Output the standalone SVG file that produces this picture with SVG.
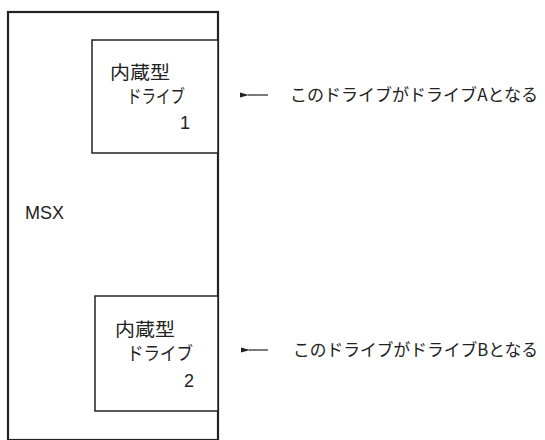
<svg xmlns="http://www.w3.org/2000/svg" width="545" height="440" viewBox="0 0 545 440">
<style>
.box{fill:#fff;stroke:#222;stroke-width:1.5}
.outer{fill:#fff;stroke:#222;stroke-width:2.2}
.t{font-family:"Noto Sans CJK JP","Liberation Sans",sans-serif;font-size:18.5px;fill:#222}
.s{font-family:"Noto Sans CJK JP","Liberation Sans",sans-serif;font-size:17px;fill:#222}
.n{font-family:"Liberation Sans",sans-serif;font-size:18px;fill:#222}
.c{stroke:#222;stroke-width:1.2;fill:none}
</style>
<defs>
<marker id="ah" markerWidth="9" markerHeight="6" refX="1" refY="3" orient="auto" markerUnits="userSpaceOnUse">
<path d="M9,0.5 L0,3 L9,5.5 Z" fill="#222"/>
</marker>
</defs>
<rect width="545" height="440" fill="#fff"/>
<g id="msx">
<rect class="outer" x="8" y="12" width="210" height="428"/>
<text class="n" x="25" y="219">MSX</text>
</g>
<g id="drive1">
<rect class="box" x="92" y="40" width="126" height="113"/>
<text class="t" x="110" y="79" textLength="60" lengthAdjust="spacingAndGlyphs">内蔵型</text>
<text class="t" x="127" y="103" textLength="58" lengthAdjust="spacingAndGlyphs">ドライブ</text>
<text class="n" x="180" y="129">1</text>
</g>
<g id="drive2">
<rect class="box" x="95" y="296" width="123" height="115"/>
<text class="t" x="115" y="336" textLength="60" lengthAdjust="spacingAndGlyphs">内蔵型</text>
<text class="t" x="127" y="360" textLength="66" lengthAdjust="spacingAndGlyphs">ドライブ</text>
<text class="n" x="184" y="387">2</text>
</g>
<g id="connectors">
<line class="c" x1="268" y1="95" x2="248" y2="95" marker-end="url(#ah)"/>
<line class="c" x1="268" y1="350" x2="249" y2="350" marker-end="url(#ah)"/>
</g>
<g id="notes">
<text class="s" x="290" y="101" textLength="248" lengthAdjust="spacingAndGlyphs">このドライブがドライブAとなる</text>
<text class="s" x="293" y="356" textLength="245" lengthAdjust="spacingAndGlyphs">このドライブがドライブBとなる</text>
</g>
</svg>
